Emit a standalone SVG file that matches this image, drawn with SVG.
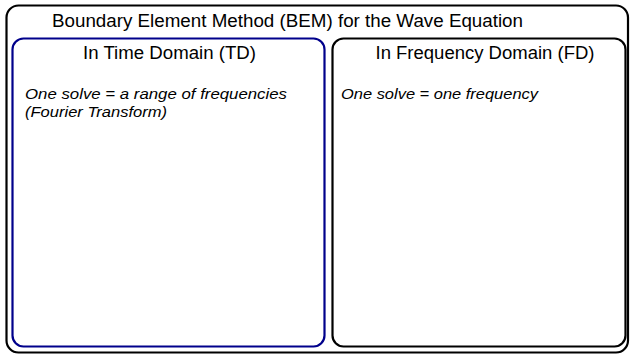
<svg xmlns="http://www.w3.org/2000/svg" width="632" height="355" viewBox="0 0 632 355">
<style>
.box{fill:#fff;stroke-width:2.2}
.t{font-family:"Liberation Sans",Arial,sans-serif;font-size:17.5px;fill:#000}
.i{font-family:"Liberation Sans",Arial,sans-serif;font-size:15.5px;font-style:italic;fill:#000}
</style>
<rect width="632" height="355" fill="#fff"/>
<g id="bem">
<rect class="box" x="6.5" y="5.5" width="621.5" height="347" rx="12" stroke="#000"/>
<text class="t" x="52" y="26.5" textLength="471" lengthAdjust="spacingAndGlyphs">Boundary Element Method (BEM) for the Wave Equation</text>
</g>
<g id="td">
<rect class="box" x="12.5" y="38.5" width="312" height="308" rx="11" stroke="#00008b"/>
<text class="t" x="83" y="59" textLength="173" lengthAdjust="spacingAndGlyphs">In Time Domain (TD)</text>
<text class="i" x="25" y="99" textLength="262" lengthAdjust="spacingAndGlyphs">One solve = a range of frequencies</text>
<text class="i" x="25" y="117" textLength="142" lengthAdjust="spacingAndGlyphs">(Fourier Transform)</text>
</g>
<g id="fd">
<rect class="box" x="332.5" y="38.5" width="293" height="308" rx="11" stroke="#000"/>
<text class="t" x="375.5" y="59" textLength="219" lengthAdjust="spacingAndGlyphs">In Frequency Domain (FD)</text>
<text class="i" x="341" y="99" textLength="197" lengthAdjust="spacingAndGlyphs">One solve = one frequency</text>
</g>
<g id="connectors"/>
</svg>
